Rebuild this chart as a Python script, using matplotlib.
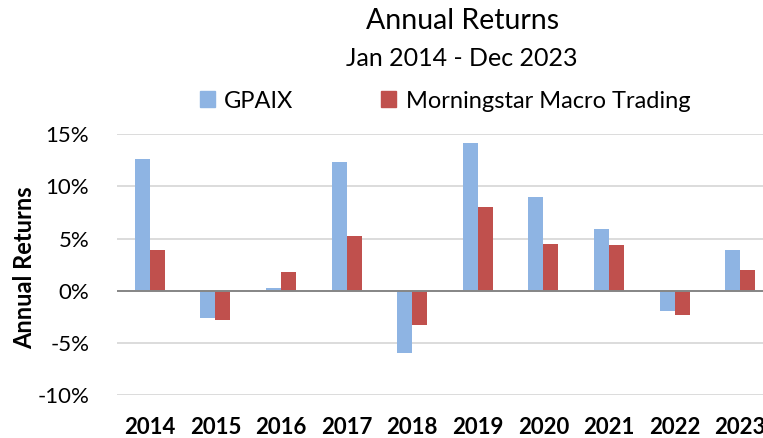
import matplotlib
matplotlib.use("Agg")
import matplotlib.pyplot as plt
import numpy as np
from matplotlib.patches import Patch

years = ["2014", "2015", "2016", "2017", "2018", "2019", "2020", "2021", "2022", "2023"]
gpaix = [12.6, -2.6, 0.3, 12.3, -6.0, 14.2, 9.0, 5.9, -1.9, 3.95]
macro = [3.9, -2.8, 1.8, 5.2, -3.25, 8.0, 4.5, 4.35, -2.35, 1.95]
series_names = ["GPAIX", "Morningstar Macro Trading"]
yticks = [-10, -5, 0, 5, 10, 15]

plt.rcParams['font.family'] = ['Lato', 'DejaVu Sans']

W, H = 763, 438
fig = plt.figure(figsize=(W / 100, H / 100), dpi=100)
left, right = 117, 773
top, bottom = 134.3, 395
ax = fig.add_axes([left / W, 1 - bottom / H, (right - left) / W, (bottom - top) / H])

x = np.arange(len(years))
bw = 0.23
blue = "#8eb4e3"
red = "#c0504d"
ax.bar(x - bw / 2, gpaix, width=bw, color=blue, zorder=3)
ax.bar(x + bw / 2, macro, width=bw, color=red, zorder=3)

ax.set_xlim(-0.5, len(years) - 0.5)
ax.set_ylim(-10, 15)
ax.set_yticks(yticks)
ax.set_yticklabels([f"{v}%" for v in yticks], fontsize=16)
ax.set_xticks(x)
ax.set_xticklabels(years, fontsize=16, fontweight='bold')
ax.tick_params(axis='both', length=0)
ax.tick_params(axis='y', pad=20)
ax.tick_params(axis='x', pad=15.5)
for s in ax.spines.values():
    s.set_visible(False)
ax.grid(axis='y', color='#d9d9d9', linewidth=1.3, zorder=0)
ax.axhline(0, color='#868686', linewidth=1.4, zorder=4)
ax.set_ylabel("Annual Returns", fontsize=17, fontweight='bold')
ax.yaxis.set_label_coords(-(117 - 36) / (right - left), 0.49)

fig.text(463 / W, 1 - 21 / H, "Annual Returns", ha='center', va='center', fontsize=20.5)
fig.text(462 / W, 1 - 58 / H, "Jan 2014 - Dec 2023", ha='center', va='center', fontsize=18)

handles = [Patch(color=blue), Patch(color=red)]
fig.legend(handles, series_names, loc='center', bbox_to_anchor=(445 / W, 1 - 101 / H),
           ncol=2, frameon=False, fontsize=17, handlelength=0.65, handleheight=0.65,
           handletextpad=0.4, columnspacing=3.7, borderaxespad=0, borderpad=0)

fig.savefig("out.png", dpi=100)
